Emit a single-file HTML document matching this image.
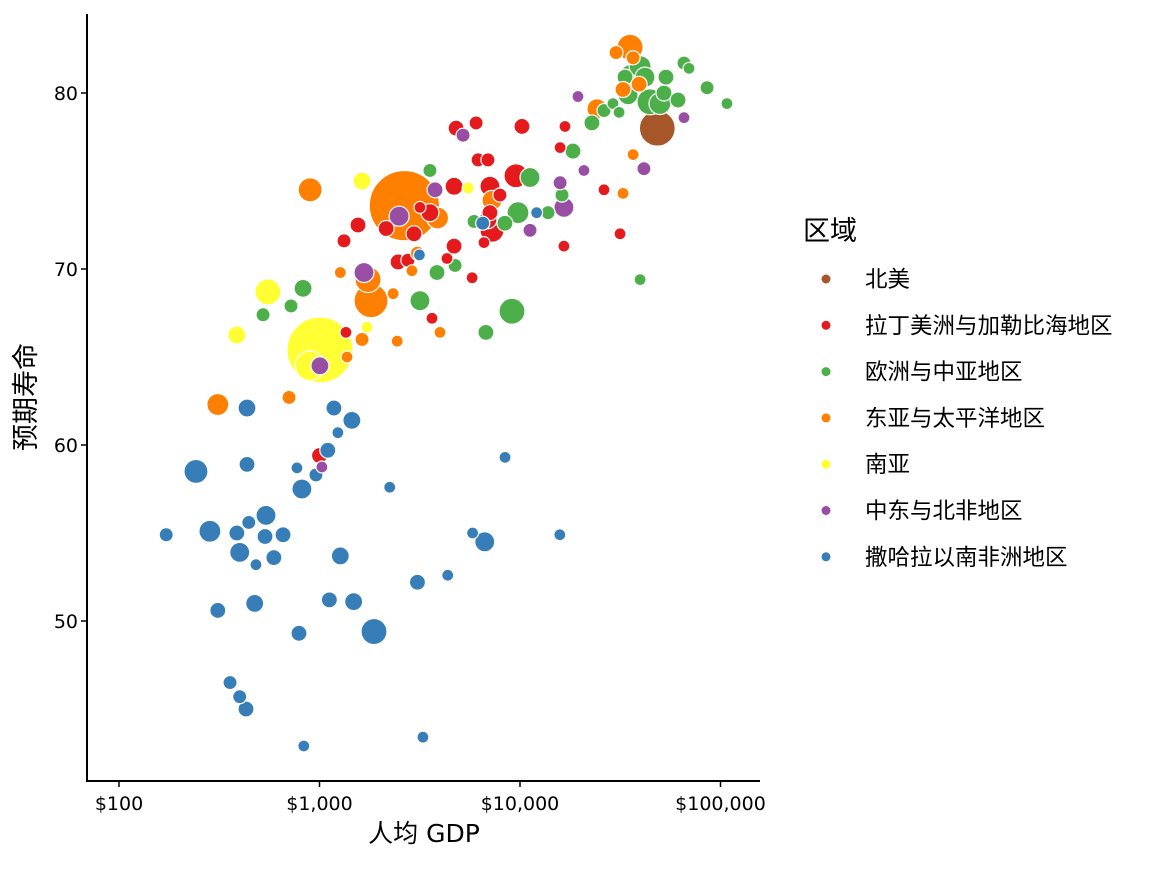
<!DOCTYPE html>
<html><head><meta charset="utf-8">
<style>
html,body{margin:0;padding:0;background:#fff;}
svg text{font-family:"DejaVu Sans","Noto Sans CJK SC",sans-serif;}
</style></head>
<body>
<svg id="chart" width="1152" height="864" xmlns="http://www.w3.org/2000/svg"></svg>
<script>
const regions = ["北美","拉丁美洲与加勒比海地区","欧洲与中亚地区","东亚与太平洋地区","南亚","中东与北非地区","撒哈拉以南非洲地区"];
const regionColors = ["#a65628","#e41a1c","#4daf4a","#ff7f00","#ffff33","#984ea3","#377eb8"];
const xTicks = [100,1000,10000,100000];
const xTickLabels = ["$100","$1,000","$10,000","$100,000"];
const yTicks = [50,60,70,80];
// [gdp per capita, life expectancy, population (millions), region index]
const northAmerica = [[48400,78.0,250,0]];
const latinAmerica = [[1000,59.4,17,1],[1325,71.6,9,1],[1556,72.5,17,1],[1355,66.4,3,1],[2150,72.3,17,1],[2465,70.4,17,1],[2760,70.5,9,1],[2960,72.0,17,1],[3555,73.2,28,1],[3640,67.2,3,1],[4325,70.6,3,1],[4690,71.3,17,1],[4690,74.7,28,1],[4800,78.0,17,1],[5770,69.5,3,1],[6040,78.3,9,1],[6180,76.2,9,1],[6610,71.5,3,1],[6920,76.2,9,1],[7080,74.7,42,1],[7080,73.2,17,1],[7250,72.2,78,1],[7940,74.2,9,1],[9550,75.3,78,1],[10230,78.1,17,1],[15850,76.9,3,1],[16760,78.1,3,1],[16560,71.3,3,1],[26240,74.5,3,1],[31550,72.0,3,1],[6920,72.8,28,1],[3170,73.5,3,1]];
const europe = [[523,67.4,9,2],[721,67.9,9,2],[828,68.9,28,2],[3555,75.6,9,2],[3170,68.2,42,2],[3855,69.8,17,2],[4745,70.2,9,2],[6760,66.4,17,2],[5900,72.7,9,2],[8410,72.6,17,2],[9120,67.6,100,2],[9770,73.2,58,2],[11220,75.2,42,2],[13800,73.2,9,2],[16200,74.2,9,2],[18370,76.7,17,2],[22850,78.3,17,2],[26240,79.0,9,2],[29100,79.4,3,2],[31200,78.9,3,2],[33420,80.9,17,2],[34590,79.9,42,2],[36220,80.9,100,2],[39720,81.5,58,2],[42000,80.9,42,2],[44460,79.5,100,2],[49890,79.4,58,2],[52240,80.0,17,2],[53460,80.9,17,2],[61380,79.6,17,2],[65770,81.7,9,2],[69660,81.4,3,2],[85700,80.3,9,2],[107700,79.4,3,2],[39720,69.4,3,2]];
const eastAsia = [[311,62.3,58,3],[705,62.7,9,3],[898,74.5,78,3],[1270,69.8,3,3],[1372,65.0,3,3],[1630,66.0,9,3],[1746,69.4,100,3],[1807,68.2,216,3],[2330,68.6,3,3],[2440,65.9,3,3],[2890,69.9,3,3],[3080,70.9,9,3],[3990,66.4,3,3],[2650,73.6,1300,3],[3880,72.9,58,3],[7250,73.9,42,3],[30130,82.3,9,3],[35400,82.6,100,3],[36650,82.0,9,3],[32650,80.2,17,3],[24200,79.1,42,3],[39260,80.5,17,3],[36650,76.5,3,3],[32650,74.3,3,3]];
const southAsia = [[387,66.25,28,4],[553,68.7,100,4],[1005,65.4,1120,4],[898,64.5,150,4],[1630,75.0,28,4],[1725,66.7,3,4],[5510,74.6,3,4]];
const mena = [[1005,64.5,28,5],[1028,58.75,3,5],[1667,69.8,42,5],[2495,73.0,42,5],[3770,74.5,17,5],[5200,77.6,9,5],[11220,72.2,9,5],[15850,74.9,9,5],[16560,73.5,42,5],[19460,79.8,3,5],[20840,75.6,3,5],[41500,75.7,9,5],[65770,78.6,3,5]];
const subSaharan = [[172,54.9,9,6],[242,58.5,78,6],[284,55.1,58,6],[311,50.6,17,6],[358,46.5,9,6],[387,55.0,17,6],[400,53.9,42,6],[400,45.7,9,6],[430,45.0,17,6],[435,62.1,28,6],[435,58.9,17,6],[444,55.6,9,6],[482,53.2,3,6],[475,51.0,28,6],[535,54.8,17,6],[541,56.0,42,6],[592,53.6,17,6],[658,54.9,17,6],[772,58.7,3,6],[790,49.3,17,6],[817,57.5,42,6],[835,42.9,3,6],[960,58.3,9,6],[1100,59.7,17,6],[1180,62.1,17,6],[1235,60.7,3,6],[1270,53.7,28,6],[1120,51.2,17,6],[1480,51.1,28,6],[1450,61.4,28,6],[1870,49.4,100,6],[2240,57.6,3,6],[3080,52.2,17,6],[3280,43.4,3,6],[4360,52.6,3,6],[5800,55.0,3,6],[6670,54.5,42,6],[8420,59.3,3,6],[15800,54.9,3,6],[6520,72.6,9,6],[3150,70.8,3,6],[12100,73.2,3,6]];

const NS="http://www.w3.org/2000/svg";
const svg=document.getElementById('chart');
function mk(tag,attrs,parent){const e=document.createElementNS(NS,tag);for(const k in attrs)e.setAttribute(k,attrs[k]);(parent||svg).appendChild(e);return e;}
const xScale=v=>119+(Math.log10(v)-2)*200.5;
const yScale=v=>93+(80-v)*17.6;
const rScale=p=>4.5+Math.sqrt(p)*0.85;

const pts=[].concat(northAmerica,latinAmerica,europe,eastAsia,southAsia,mena,subSaharan).slice().sort((a,b)=>b[2]-a[2]);
const g=mk('g',{});


pts.forEach(d=>{
  const c=mk('circle',{cx:xScale(d[0]),cy:yScale(d[1]),r:rScale(d[2]),fill:regionColors[d[3]],stroke:'#fff','stroke-width':1.2},g);
  
  
});

const ax=mk('line',{x1:87,y1:14,x2:87,y2:781,stroke:'#000','stroke-width':2});


const bx=mk('line',{x1:86,y1:781,x2:760,y2:781,stroke:'#000','stroke-width':2});


xTicks.forEach((v,i)=>{
  const x=xScale(v);
  const t=mk('line',{x1:x,y1:781,x2:x,y2:787,stroke:'#000','stroke-width':1.5});
  
  
  const l=mk('text',{x:x,y:810,'text-anchor':'middle','font-size':19,fill:'#000'});
  l.textContent=xTickLabels[i];
  
  
});
yTicks.forEach(v=>{
  const y=yScale(v);
  const t=mk('line',{x1:81,y1:y,x2:87,y2:y,stroke:'#000','stroke-width':1.5});
  
  
  const l=mk('text',{x:78,y:y+7,'text-anchor':'end','font-size':19,fill:'#000'});
  l.textContent=String(v);
  
  
});
const xt=mk('text',{x:424,y:842,'text-anchor':'middle','font-size':25,fill:'#000'});
xt.textContent='人均 GDP';


const yt=mk('text',{x:0,y:0,'text-anchor':'middle','font-size':27,fill:'#000',transform:'translate(35,397) rotate(-90)'});
yt.textContent='预期寿命';



const lg=mk('g',{});


const lt=mk('text',{x:803,y:240,'font-size':27,fill:'#000'},lg);
lt.textContent='区域';


regions.forEach((r,i)=>{
  const y=279+i*46.3;
  const d=mk('circle',{cx:826,cy:y,r:4.5,fill:regionColors[i]},lg);
  
  
  const t=mk('text',{x:865,y:y+8,'font-size':22.5,fill:'#000'},lg);
  t.textContent=r;
  
  
});
</script>
</body></html>
